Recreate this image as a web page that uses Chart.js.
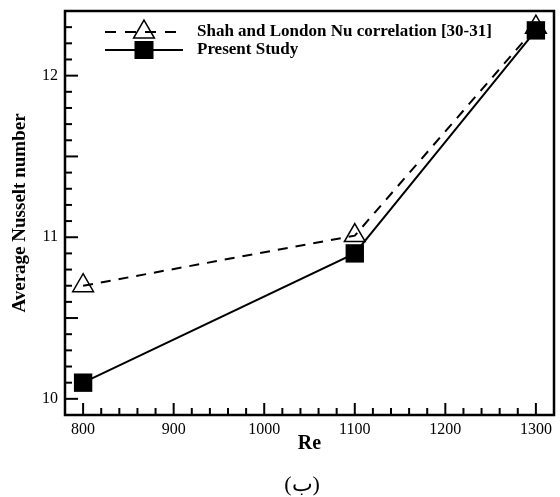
<!DOCTYPE html>
<html>
<head>
<meta charset="utf-8">
<script src="https://cdn.jsdelivr.net/npm/chart.js@4"></script>
<style>
html,body{margin:0;padding:0;background:#fff;}
#wrap{width:560px;height:497px;}
</style>
</head>
<body>
<div id="wrap"><canvas id="c" width="560" height="497"></canvas></div>
<script>
// ---- data ----
const reValues = [800, 1100, 1300];
const shahLondon = [10.70, 11.01, 12.30];
const presentStudy = [10.10, 10.90, 12.28];
const seriesNames = ["Shah and London Nu correlation [30-31]", "Present Study"];
const xTickLabels = [800, 900, 1000, 1100, 1200, 1300];
const yTickLabels = [10, 11, 12];
const xTitle = "Re";
const yTitle = "Average Nusselt number";
const caption = "(ب)";

const SERIF = "'Liberation Serif', 'Times New Roman', 'DejaVu Serif', serif";
Chart.defaults.font.family = SERIF;
Chart.defaults.color = '#000';

function pts(xs, ys){ return xs.map((x,i)=>({x:x, y:ys[i]})); }
function near(v, arr){ return arr.some(a => Math.abs(a - v) < 1e-6); }

const framePlugin = {
  id: 'frame',
  afterDatasetsDraw(chart){
    const ctx = chart.ctx, a = chart.chartArea;
    const xs = chart.scales.x, ys = chart.scales.y;
    ctx.save();
    ctx.strokeStyle = '#000';
    ctx.lineWidth = 2;
    xs.ticks.forEach(t => {
      const v = t.value;
      const px = xs.getPixelForValue(v);
      if (px <= a.left + 1 || px >= a.right - 1) return;
      const major = Math.abs(v/100 - Math.round(v/100)) < 1e-6;
      const len = major ? 12 : 7;
      ctx.beginPath(); ctx.moveTo(px, a.bottom); ctx.lineTo(px, a.bottom - len); ctx.stroke();
    });
    ys.ticks.forEach(t => {
      const v = t.value;
      const py = ys.getPixelForValue(v);
      if (py <= a.top + 1 || py >= a.bottom - 1) return;
      const major = Math.abs(v*2 - Math.round(v*2)) < 1e-6;
      const len = major ? 13 : 7;
      ctx.beginPath(); ctx.moveTo(a.left, py); ctx.lineTo(a.left + len, py); ctx.stroke();
    });
    ctx.lineWidth = 2.5;
    ctx.strokeRect(a.left, a.top, a.right - a.left, a.bottom - a.top);
    ctx.restore();
  },
  afterDraw(chart){
    const ctx = chart.ctx;
    ctx.save();
    const lx0 = 105, lx1 = 183, mx = 144, y1 = 32, y2 = 50;
    ctx.strokeStyle = '#000'; ctx.lineWidth = 2;
    ctx.setLineDash([11, 9]);
    ctx.beginPath(); ctx.moveTo(lx0, y1); ctx.lineTo(lx1, y1); ctx.stroke();
    ctx.setLineDash([]);
    ctx.beginPath(); ctx.moveTo(lx0, y2); ctx.lineTo(lx1, y2); ctx.stroke();
    const r = 12;
    ctx.lineWidth = 1.5;
    ctx.beginPath();
    ctx.moveTo(mx, y1 - r);
    ctx.lineTo(mx + r*Math.sin(Math.PI*2/3), y1 - r*Math.cos(Math.PI*2/3));
    ctx.lineTo(mx - r*Math.sin(Math.PI*2/3), y1 - r*Math.cos(Math.PI*2/3));
    ctx.closePath(); ctx.stroke();
    ctx.fillStyle = '#000';
    ctx.fillRect(mx - 9.5, y2 - 9, 19, 18);
    ctx.font = "bold 17px " + SERIF;
    ctx.textBaseline = 'middle'; ctx.textAlign = 'left';
    ctx.fillText(seriesNames[0], 197, y1);
    ctx.fillText(seriesNames[1], 197, y2);
    ctx.font = "22px " + SERIF;
    ctx.textAlign = 'center';
    ctx.fillText(caption, 302, 485);
    ctx.restore();
  }
};

new Chart(document.getElementById('c'), {
  type: 'line',
  data: {
    datasets: [
      {
        label: seriesNames[0],
        data: pts(reValues, shahLondon),
        borderColor: '#000',
        borderWidth: 2,
        borderDash: [10, 8],
        pointStyle: 'triangle',
        pointRadius: 12,
        pointBorderWidth: 1.5,
        pointBorderColor: '#000',
        pointBackgroundColor: 'rgba(0,0,0,0)',
        fill: false,
        tension: 0,
        order: 1
      },
      {
        label: seriesNames[1],
        data: pts(reValues, presentStudy),
        borderColor: '#000',
        borderWidth: 2,
        pointStyle: 'rect',
        pointRadius: 13,
        pointBorderWidth: 0,
        pointBackgroundColor: '#000',
        pointBorderColor: '#000',
        fill: false,
        tension: 0,
        order: 0
      }
    ]
  },
  options: {
    responsive: false,
    animation: false,
    devicePixelRatio: 1,
    layout: { autoPadding: false, padding: { top: 11, right: 6, left: 0, bottom: 0 } },
    plugins: { legend: { display: false }, tooltip: { enabled: false } },
    scales: {
      x: {
        type: 'linear',
        min: 780, max: 1320,
        border: { display: false },
        grid: { display: false, drawTicks: false },
        ticks: {
          stepSize: 20, autoSkip: false, maxRotation: 0, padding: 5,
          font: { size: 16 },
          callback: v => near(v, xTickLabels) ? String(Math.round(v)) : ''
        },
        title: { display: true, text: xTitle, font: { size: 20, weight: 'bold' }, padding: { top: 41, bottom: 41 } },
        afterFit: s => { s.height = 82; s.paddingLeft = 0; s.paddingRight = 0; }
      },
      y: {
        type: 'linear',
        min: 9.9, max: 12.4,
        border: { display: false },
        grid: { display: false, drawTicks: false },
        ticks: {
          stepSize: 0.1, autoSkip: false, padding: 7,
          font: { size: 16 },
          callback: v => near(v, yTickLabels) ? String(Math.round(v)) : ''
        },
        title: { display: true, text: yTitle, font: { size: 19, weight: 'bold' }, padding: { top: 9, bottom: 9 } },
        afterFit: s => { s.width = 65; s.paddingTop = 0; s.paddingBottom = 0; }
      }
    }
  },
  plugins: [framePlugin]
});
</script>
</body>
</html>
